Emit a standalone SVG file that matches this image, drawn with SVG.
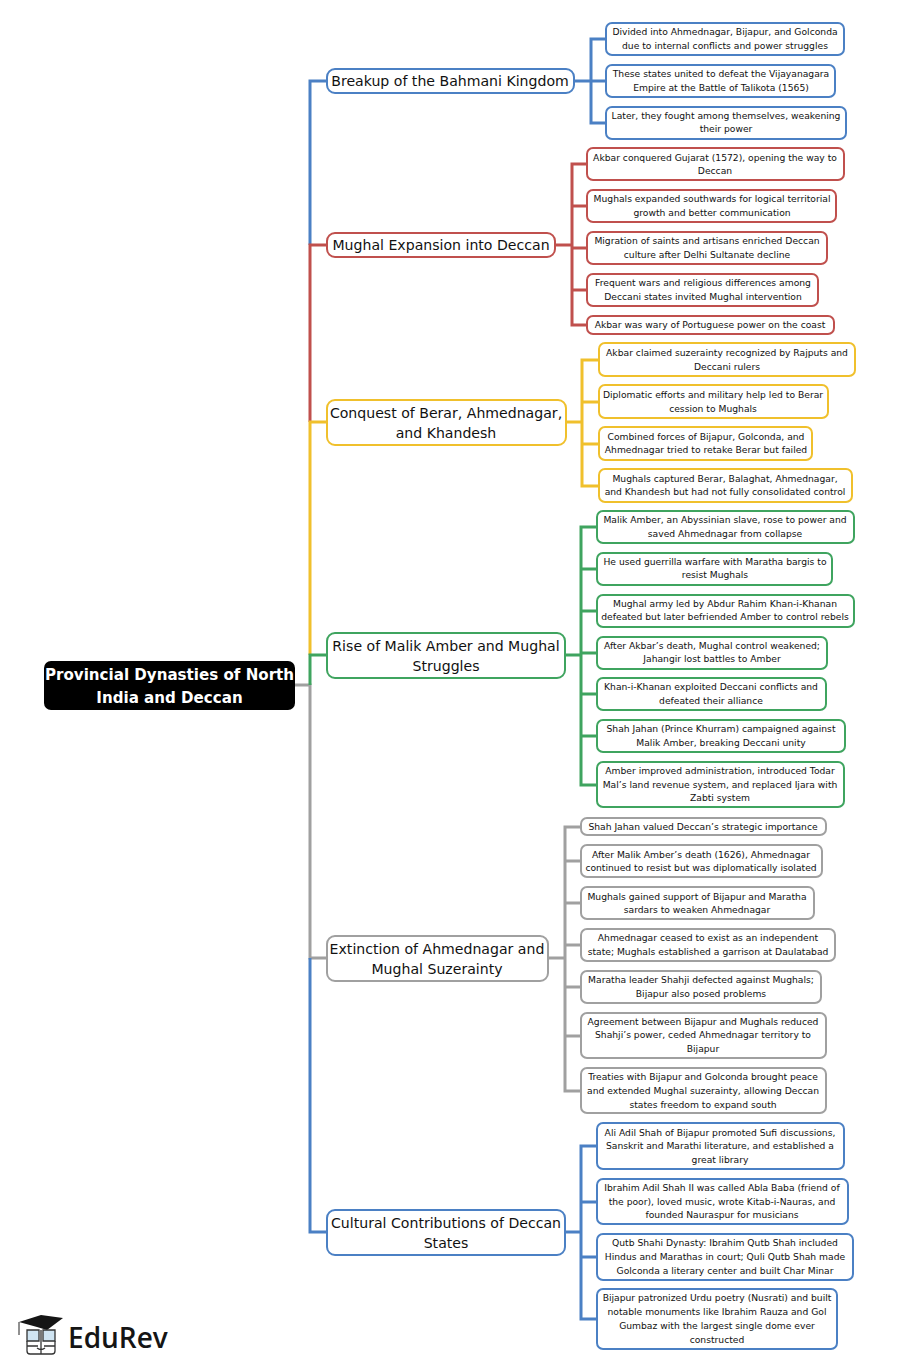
<svg xmlns="http://www.w3.org/2000/svg" width="900" height="1372" viewBox="0 0 900 1372">
<style>
text{font-family:"DejaVu Sans",sans-serif;fill:#111;text-anchor:middle;stroke:none}
.l text{font-size:9.2px}
.m text{font-size:14.1px}
.l rect,.m rect{fill:#fff;stroke-width:2}
.c path{fill:none;stroke-width:3;stroke-linejoin:miter}
.b rect,path.b{stroke:#4b80c4}
.r rect,path.r{stroke:#c0504d}
.y rect,path.y{stroke:#f0c02c}
.g rect,path.g{stroke:#3fa45f}
.a rect,path.a{stroke:#a0a0a0}
</style>
<rect width="900" height="1372" fill="#fff"/>
<g id="connectors" class="c">
<path class="a" d="M295 685H310V958H327"/>
<path class="b" d="M310 958V1232H327"/>
<path class="b" d="M310 245V81H327"/>
<path class="r" d="M310 422V245H327"/>
<path class="y" d="M310 655V422H327"/>
<path class="g" d="M310 685V655H327"/>
<path class="b" d="M574 81H591M606 39H591V123H606M591 81H606"/>
<path class="r" d="M555 245H572M587 164H572V325H587M572 206H587M572 248H587M572 290H587"/>
<path class="y" d="M566 422H582M599 360H582V486H599M582 402H599M582 444H599"/>
<path class="g" d="M565 655H581M597 527H581V785H597M581 569H597M581 611H597M581 653H597M581 694H597M581 736H597"/>
<path class="a" d="M548 958H565M581 827H565V1091H581M565 861H581M565 903H581M565 945H581M565 987H581M565 1036H581"/>
<path class="b" d="M565 1232H581M597 1146H581V1319H597M581 1202H597M581 1257H597"/>
</g>
<g id="root"><rect x="44" y="661" width="251" height="49" rx="7" fill="#000"/>
<text x="169.5" y="680" font-size="15.1" font-weight="700" style="fill:#fff">Provincial Dynasties of North</text><text x="169.5" y="703" font-size="15.1" font-weight="700" style="fill:#fff">India and Deccan</text></g>
<g class="m">
<g id="m1" class="b"><rect x="327" y="69" width="247" height="24" rx="8"/><text x="450" y="86">Breakup of the Bahmani Kingdom</text></g>
<g id="m2" class="r"><rect x="327" y="233" width="228" height="24" rx="8"/><text x="441" y="250">Mughal Expansion into Deccan</text></g>
<g id="m3" class="y"><rect x="327" y="400" width="239" height="45" rx="8"/><text x="446" y="418">Conquest of Berar, Ahmednagar,</text><text x="446" y="438">and Khandesh</text></g>
<g id="m4" class="g"><rect x="327" y="633" width="238" height="45" rx="8"/><text x="446" y="651">Rise of Malik Amber and Mughal</text><text x="446" y="671">Struggles</text></g>
<g id="m5" class="a"><rect x="327" y="936" width="221" height="45" rx="8"/><text x="437" y="954">Extinction of Ahmednagar and</text><text x="437" y="974">Mughal Suzerainty</text></g>
<g id="m6" class="b"><rect x="327" y="1210" width="238" height="45" rx="8"/><text x="446" y="1228">Cultural Contributions of Deccan</text><text x="446" y="1248">States</text></g>
</g>
<g class="l">
<g id="b1" class="b"><rect x="606" y="23" width="238" height="32" rx="6"/><text x="725" y="35">Divided into Ahmednagar, Bijapur, and Golconda</text><text x="725" y="49">due to internal conflicts and power struggles</text></g>
<g id="b2" class="b"><rect x="606" y="65" width="229" height="32" rx="6"/><text x="721" y="77">These states united to defeat the Vijayanagara</text><text x="721" y="91">Empire at the Battle of Talikota (1565)</text></g>
<g id="b3" class="b"><rect x="606" y="107" width="240" height="32" rx="6"/><text x="726" y="119">Later, they fought among themselves, weakening</text><text x="726" y="132">their power</text></g>
<g id="r1" class="r"><rect x="587" y="148" width="257" height="32" rx="6"/><text x="715" y="161">Akbar conquered Gujarat (1572), opening the way to</text><text x="715" y="174">Deccan</text></g>
<g id="r2" class="r"><rect x="587" y="190" width="249" height="32" rx="6"/><text x="712" y="202">Mughals expanded southwards for logical territorial</text><text x="712" y="216">growth and better communication</text></g>
<g id="r3" class="r"><rect x="587" y="232" width="240" height="32" rx="6"/><text x="707" y="244">Migration of saints and artisans enriched Deccan</text><text x="707" y="258">culture after Delhi Sultanate decline</text></g>
<g id="r4" class="r"><rect x="587" y="274" width="231" height="32" rx="6"/><text x="703" y="286">Frequent wars and religious differences among</text><text x="703" y="300">Deccani states invited Mughal intervention</text></g>
<g id="r5" class="r"><rect x="587" y="316" width="247" height="18" rx="6"/><text x="710" y="328">Akbar was wary of Portuguese power on the coast</text></g>
<g id="y1" class="y"><rect x="599" y="343" width="256" height="33" rx="6"/><text x="727" y="356">Akbar claimed suzerainty recognized by Rajputs and</text><text x="727" y="370">Deccani rulers</text></g>
<g id="y2" class="y"><rect x="599" y="385" width="229" height="33" rx="6"/><text x="713" y="398">Diplomatic efforts and military help led to Berar</text><text x="713" y="412">cession to Mughals</text></g>
<g id="y3" class="y"><rect x="599" y="427" width="213" height="33" rx="6"/><text x="706" y="440">Combined forces of Bijapur, Golconda, and</text><text x="706" y="453">Ahmednagar tried to retake Berar but failed</text></g>
<g id="y4" class="y"><rect x="599" y="469" width="253" height="33" rx="6"/><text x="725" y="482">Mughals captured Berar, Balaghat, Ahmednagar,</text><text x="725" y="495">and Khandesh but had not fully consolidated control</text></g>
<g id="g1" class="g"><rect x="597" y="511" width="257" height="32" rx="6"/><text x="725" y="523">Malik Amber, an Abyssinian slave, rose to power and</text><text x="725" y="537">saved Ahmednagar from collapse</text></g>
<g id="g2" class="g"><rect x="597" y="553" width="235" height="32" rx="6"/><text x="715" y="565">He used guerrilla warfare with Maratha bargis to</text><text x="715" y="578">resist Mughals</text></g>
<g id="g3" class="g"><rect x="597" y="595" width="257" height="32" rx="6"/><text x="725" y="607">Mughal army led by Abdur Rahim Khan-i-Khanan</text><text x="725" y="620">defeated but later befriended Amber to control rebels</text></g>
<g id="g4" class="g"><rect x="597" y="637" width="230" height="32" rx="6"/><text x="712" y="649">After Akbar’s death, Mughal control weakened;</text><text x="712" y="662">Jahangir lost battles to Amber</text></g>
<g id="g5" class="g"><rect x="597" y="678" width="229" height="32" rx="6"/><text x="711" y="690">Khan-i-Khanan exploited Deccani conflicts and</text><text x="711" y="704">defeated their alliance</text></g>
<g id="g6" class="g"><rect x="597" y="720" width="248" height="32" rx="6"/><text x="721" y="732">Shah Jahan (Prince Khurram) campaigned against</text><text x="721" y="746">Malik Amber, breaking Deccani unity</text></g>
<g id="g7" class="g"><rect x="597" y="762" width="247" height="45" rx="6"/><text x="720" y="774">Amber improved administration, introduced Todar</text><text x="720" y="788">Mal’s land revenue system, and replaced Ijara with</text><text x="720" y="801">Zabti system</text></g>
<g id="a1" class="a"><rect x="581" y="818" width="245" height="17" rx="6"/><text x="703" y="830">Shah Jahan valued Deccan’s strategic importance</text></g>
<g id="a2" class="a"><rect x="581" y="845" width="241" height="32" rx="6"/><text x="701" y="858">After Malik Amber’s death (1626), Ahmednagar</text><text x="701" y="871">continued to resist but was diplomatically isolated</text></g>
<g id="a3" class="a"><rect x="581" y="887" width="233" height="32" rx="6"/><text x="697" y="900">Mughals gained support of Bijapur and Maratha</text><text x="697" y="913">sardars to weaken Ahmednagar</text></g>
<g id="a4" class="a"><rect x="581" y="929" width="254" height="32" rx="6"/><text x="708" y="941">Ahmednagar ceased to exist as an independent</text><text x="708" y="955">state; Mughals established a garrison at Daulatabad</text></g>
<g id="a5" class="a"><rect x="581" y="971" width="240" height="32" rx="6"/><text x="701" y="983">Maratha leader Shahji defected against Mughals;</text><text x="701" y="997">Bijapur also posed problems</text></g>
<g id="a6" class="a"><rect x="581" y="1013" width="245" height="45" rx="6"/><text x="703" y="1025">Agreement between Bijapur and Mughals reduced</text><text x="703" y="1038">Shahji’s power, ceded Ahmednagar territory to</text><text x="703" y="1052">Bijapur</text></g>
<g id="a7" class="a"><rect x="581" y="1068" width="245" height="45" rx="6"/><text x="703" y="1080">Treaties with Bijapur and Golconda brought peace</text><text x="703" y="1094">and extended Mughal suzerainty, allowing Deccan</text><text x="703" y="1108">states freedom to expand south</text></g>
<g id="c1" class="b"><rect x="597" y="1123" width="247" height="46" rx="6"/><text x="720" y="1136">Ali Adil Shah of Bijapur promoted Sufi discussions,</text><text x="720" y="1149">Sanskrit and Marathi literature, and established a</text><text x="720" y="1163">great library</text></g>
<g id="c2" class="b"><rect x="597" y="1179" width="251" height="45" rx="6"/><text x="722" y="1191">Ibrahim Adil Shah II was called Abla Baba (friend of</text><text x="722" y="1205">the poor), loved music, wrote Kitab-i-Nauras, and</text><text x="722" y="1218">founded Nauraspur for musicians</text></g>
<g id="c3" class="b"><rect x="597" y="1234" width="256" height="46" rx="6"/><text x="725" y="1246">Qutb Shahi Dynasty: Ibrahim Qutb Shah included</text><text x="725" y="1260">Hindus and Marathas in court; Quli Qutb Shah made</text><text x="725" y="1274">Golconda a literary center and built Char Minar</text></g>
<g id="c4" class="b"><rect x="597" y="1289" width="240" height="60" rx="6"/><text x="717" y="1301">Bijapur patronized Urdu poetry (Nusrati) and built</text><text x="717" y="1315">notable monuments like Ibrahim Rauza and Gol</text><text x="717" y="1329">Gumbaz with the largest single dome ever</text><text x="717" y="1343">constructed</text></g>
</g>
<g id="logo">
<path d="M19 1322L41 1315L63 1318L47 1330L37 1327Z" fill="#151515"/>
<path d="M19 1322V1335" stroke="#222" fill="none"/>
<path d="M27 1330H39V1341H27ZM43 1330H55V1341H43Z" fill="#cfe4f2" stroke="#333" stroke-width="1.3"/>
<path d="M27 1341V1351Q27 1354 30 1354H52Q55 1354 55 1351V1341M27 1346H38M44 1346H55M41 1330V1354M37 1348Q41 1351 45 1348" fill="none" stroke="#333" stroke-width="1.3"/>
<text x="68" y="1348" style="font-family:'Open Sans',sans-serif;font-size:28px;font-weight:600;text-anchor:start;fill:#151515">EduRev</text>
</g>
</svg>
